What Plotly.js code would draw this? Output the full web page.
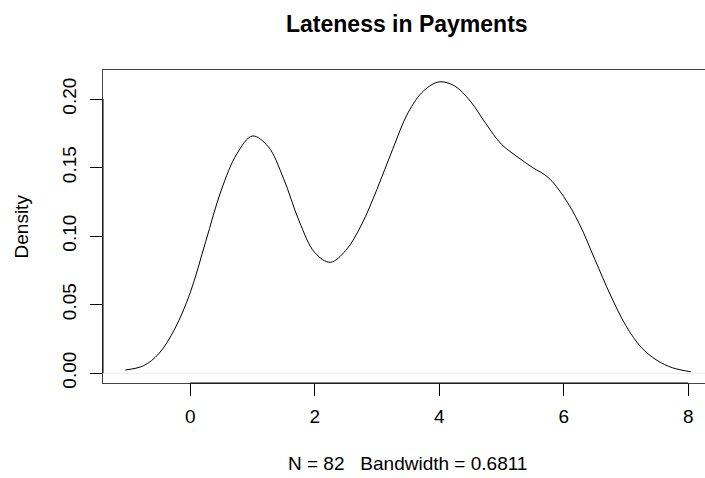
<!DOCTYPE html>
<html>
<head>
<meta charset="utf-8">
<script src="https://cdn.plot.ly/plotly-3.0.1.min.js"></script>
<style>
  html, body { margin: 0; padding: 0; background: #ffffff; }
  #chart { width: 705px; height: 478px; }
</style>
</head>
<body>
<div id="chart"></div>
<script>
// Kernel density estimate of payment lateness (N = 82, bandwidth 0.6811),
// sampled along the curve.
const lateness = [
  -1.043, -0.75, -0.50, -0.25, 0.00, 0.25, 0.50, 0.75, 1.00, 1.25,
  1.50, 1.75, 2.00, 2.25, 2.50, 2.75, 3.00, 3.25, 3.50, 3.75,
  4.00, 4.25, 4.50, 4.75, 5.00, 5.25, 5.50, 5.75, 6.00, 6.25,
  6.50, 6.75, 7.00, 7.25, 7.50, 7.75, 8.043
];
const density = [
  0.0022, 0.0053, 0.0143, 0.0320, 0.0585, 0.0960, 0.1335, 0.1600, 0.1730, 0.1655,
  0.1420, 0.1110, 0.0880, 0.0808, 0.0895, 0.1080, 0.1340, 0.1630, 0.1900, 0.2060,
  0.2125, 0.2095, 0.1985, 0.1820, 0.1670, 0.1580, 0.1500, 0.1428, 0.1288, 0.1090,
  0.0830, 0.0570, 0.0345, 0.0185, 0.0092, 0.0038, 0.0009
];
const xTicks = [0, 2, 4, 6, 8];
const yTicks = [0.00, 0.05, 0.10, 0.15, 0.20];

const sampleSize = 82;
const bandwidth = 0.6811;

const font = 'Liberation Sans, Arial, Helvetica, sans-serif';
const ink = '#000000';
const boxInk = '#444444';

const trace = {
  x: lateness,
  y: density,
  type: 'scatter',
  mode: 'lines',
  line: { color: ink, width: 1, shape: 'spline', smoothing: 1 },
  hoverinfo: 'skip'
};

// Axis lines run only between the first and last ticks, on top of the box.
const axisSegments = [
  {
    type: 'line', xref: 'x', yref: 'paper',
    x0: xTicks[0], x1: xTicks[xTicks.length - 1], y0: 0, y1: 0,
    line: { color: ink, width: 1 }
  },
  {
    type: 'line', xref: 'paper', yref: 'y',
    x0: 0, x1: 0, y0: yTicks[0], y1: yTicks[yTicks.length - 1],
    line: { color: ink, width: 1 }
  }
];

const layout = {
  width: 705,
  height: 478,
  margin: { l: 103, r: 0, t: 70, b: 95 },
  paper_bgcolor: '#ffffff',
  plot_bgcolor: '#ffffff',
  showlegend: false,
  font: { family: font, size: 19, color: ink },
  shapes: axisSegments,
  xaxis: {
    range: [-1.40, 8.27],
    tickvals: xTicks,
    ticktext: xTicks.map(String),
    ticks: 'outside',
    ticklen: 12,
    tickwidth: 1,
    tickcolor: ink,
    ticklabelstandoff: 4,
    showline: true,
    linecolor: boxInk,
    linewidth: 1,
    mirror: true,
    showgrid: false,
    zeroline: false,
    tickfont: { family: font, size: 19, color: ink }
  },
  yaxis: {
    range: [-0.0073, 0.2212],
    tickvals: yTicks,
    ticktext: yTicks.map(v => v.toFixed(2)),
    tickangle: -90,
    ticks: 'outside',
    ticklen: 12,
    tickwidth: 1,
    tickcolor: ink,
    ticklabelstandoff: 6,
    showline: true,
    linecolor: boxInk,
    linewidth: 1,
    mirror: false,
    showgrid: false,
    zeroline: true,
    zerolinecolor: '#eeeeee',
    zerolinewidth: 1,
    tickfont: { family: font, size: 19, color: ink }
  },
  annotations: [
    {
      text: '<b>Lateness in Payments</b>',
      xref: 'paper', yref: 'paper',
      x: 0.505, y: 1.147,
      xanchor: 'center', yanchor: 'middle',
      showarrow: false,
      font: { family: font, size: 23, color: ink }
    },
    {
      text: 'N = ' + sampleSize + '\u00A0\u00A0 Bandwidth = ' + bandwidth.toFixed(4),
      xref: 'paper', yref: 'paper',
      x: 0.505, y: -0.256,
      xanchor: 'center', yanchor: 'middle',
      showarrow: false,
      font: { family: font, size: 19, color: ink }
    },
    {
      text: 'Density',
      xref: 'paper', yref: 'paper',
      x: -0.1346, y: 0.5,
      xanchor: 'center', yanchor: 'middle',
      textangle: -90,
      showarrow: false,
      font: { family: font, size: 19, color: ink }
    }
  ]
};

Plotly.newPlot('chart', [trace], layout, { displayModeBar: false, staticPlot: true });
</script>
</body>
</html>
